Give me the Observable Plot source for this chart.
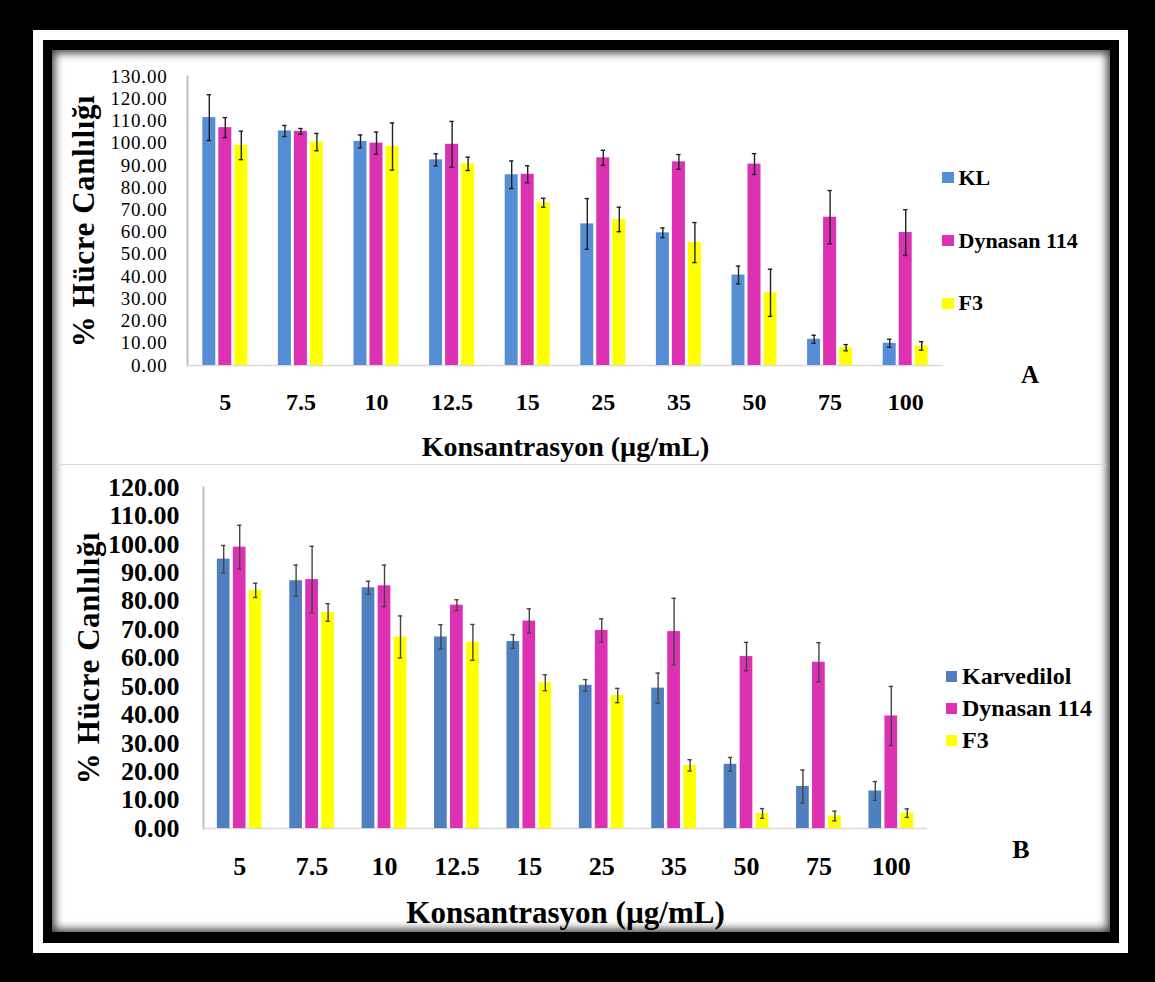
<!DOCTYPE html>
<html>
<head>
<meta charset="utf-8">
<script src="https://cdn.jsdelivr.net/npm/d3@7"></script>
<script src="https://cdn.jsdelivr.net/npm/@observablehq/plot@0.6"></script>
<style>
  html, body { margin: 0; padding: 0; background: #000; }
  #page { position: relative; width: 1155px; height: 982px; overflow: hidden; background: #000; font-family: "Liberation Serif", "Times New Roman", serif; }
  #ring { position: absolute; left: 33px; top: 30px; width: 1095px; height: 923px; background: #fff; }
  #inner { position: absolute; left: 43px; top: 40px; width: 1076px; height: 903px; background: #000; }
  #interior { position: absolute; left: 52px; top: 50px; width: 1058px; height: 882px; background: #fff; box-shadow: inset 0 0 9px 3px rgba(0,0,0,0.75); }
  #sep { position: absolute; left: 56px; top: 464px; width: 1050px; height: 0; border-top: 1.5px solid #d9d9d9; }
  .plot { position: absolute; }
  .plot svg { background: transparent !important; overflow: visible; }
  #pa { left: 54px; top: 56px; }
  #pb { left: 54px; top: 466px; }
  .plot [aria-label="frame"], .plot [aria-label="frame"] * { stroke: #bfbfbf !important; stroke-width: 2px; }
  #pa [aria-label="y-axis tick label"] text { font-size: 19px !important; font-weight: normal; letter-spacing: 0.8px; font-family: "Liberation Serif", serif; }
  #pb [aria-label="y-axis tick label"] text { font-size: 26px !important; font-weight: bold; font-family: "Liberation Serif", serif; }
  #pa [aria-label="fx-axis tick label"] text { font-size: 24px !important; font-weight: bold; font-family: "Liberation Serif", serif; }
  #pb [aria-label="fx-axis tick label"] text { font-size: 26px !important; font-weight: bold; font-family: "Liberation Serif", serif; }
  #pa [aria-label="y-axis label"] text { font-size: 31px !important; font-weight: bold; letter-spacing: 0.6px; font-family: "Liberation Serif", serif; }
  #pb [aria-label="y-axis label"] text { font-size: 31px !important; font-weight: bold; letter-spacing: 0.6px; font-family: "Liberation Serif", serif; }
  #pa [aria-label="fx-axis label"] text { font-size: 28px !important; font-weight: bold; font-family: "Liberation Serif", serif; }
  #pb [aria-label="fx-axis label"] text { font-size: 31px !important; font-weight: bold; font-family: "Liberation Serif", serif; }
  .legend { position: absolute; font-weight: bold; color: #000; }
  .legend .item { position: absolute; left: 0; white-space: nowrap; display: flex; align-items: center; }
  .legend .sw { display: inline-block; margin-right: 5px; }
  .tag { position: absolute; font-weight: bold; color: #000; transform: translate(-50%, -50%); }
</style>
</head>
<body>
<div id="page">
  <div id="ring"></div>
  <div id="inner"></div>
  <div id="interior"></div>
  <div id="sep"></div>
  <div id="pa" class="plot"></div>
  <div id="pb" class="plot"></div>
</div>
<script>
// ---- Data ----
const concentrations = ["5", "7.5", "10", "12.5", "15", "25", "35", "50", "75", "100"];

// Panel A
const seriesA = ["KL", "Dynasan 114", "F3"];
const colorsA = ["#558ED5", "#DD31B4", "#FFFF00"];
const ticksA = [0, 10, 20, 30, 40, 50, 60, 70, 80, 90, 100, 110, 120, 130];
const aKL      = [111.5, 105.5, 100.8, 92.5, 85.8, 63.7, 59.7, 40.7, 11.8, 10.0];
const aKLErr   = [10.3, 2.5, 2.9, 2.7, 6.2, 11.4, 2.2, 4.0, 1.8, 1.8];
const aDyn     = [107.0, 105.3, 100.0, 99.5, 86.0, 93.4, 91.6, 90.6, 66.7, 59.8];
const aDynErr  = [4.5, 1.3, 5.0, 10.3, 3.8, 3.4, 3.3, 4.7, 12.0, 10.3];
const aF3      = [99.0, 100.5, 98.5, 90.7, 73.2, 65.7, 55.3, 32.7, 8.0, 8.8];
const aF3Err   = [6.4, 3.9, 10.6, 3.0, 2.0, 5.5, 9.0, 10.6, 1.4, 1.9];

// Panel B
const seriesB = ["Karvedilol", "Dynasan 114", "F3"];
const colorsB = ["#4F7FBE", "#DD31B4", "#FFFF00"];
const ticksB = [0, 10, 20, 30, 40, 50, 60, 70, 80, 90, 100, 110, 120];
const bKar     = [94.8, 87.2, 84.7, 67.4, 65.8, 50.4, 49.4, 22.6, 14.8, 13.2];
const bKarErr  = [4.8, 5.5, 2.3, 4.3, 2.4, 2.0, 5.3, 2.4, 5.8, 3.3];
const bDyn     = [99.0, 87.6, 85.4, 78.6, 73.0, 69.7, 69.3, 60.5, 58.5, 39.6];
const bDynErr  = [7.7, 11.7, 7.3, 1.9, 4.3, 4.1, 11.7, 5.0, 6.9, 10.4];
const bF3      = [83.8, 76.0, 67.4, 65.5, 51.3, 46.8, 22.2, 5.3, 4.4, 5.4];
const bF3Err   = [2.5, 3.1, 7.4, 6.3, 2.8, 2.5, 2.0, 1.7, 1.7, 1.5];

const yLabel = "% Hücre Canlılığı";
const xLabel = "Konsantrasyon (µg/mL)";

function rows(series, vals, errs) {
  return concentrations.flatMap((c, i) => series.map((s, j) => ({conc: c, series: s, value: vals[j][i], err: errs[j][i]})));
}

function chart(cfg) {
  const data = rows(cfg.series, cfg.vals, cfg.errs);
  return Plot.plot({
    width: cfg.width, height: cfg.height,
    marginLeft: cfg.ml, marginRight: cfg.mr, marginTop: cfg.mt, marginBottom: cfg.mb,
    style: {background: "transparent", color: "black", fontFamily: "'Liberation Serif', serif"},
    fx: {domain: concentrations, paddingInner: 0, paddingOuter: 0, round: false, axis: "bottom",
         tickSize: 0, tickPadding: cfg.fxPad, label: xLabel, labelAnchor: "center", labelOffset: cfg.xLabOff},
    x: {domain: cfg.series, axis: null, paddingInner: cfg.pin, paddingOuter: cfg.pout, round: false},
    y: {domain: cfg.ydom, ticks: cfg.ticks, tickFormat: d3.format(".2f"), tickSize: 0, tickPadding: cfg.yPad,
        label: yLabel, labelAnchor: "center", labelOffset: cfg.yLabOff, labelArrow: "none", line: true},
    color: {domain: cfg.series, range: cfg.colors},
    marks: [
      Plot.ruleY([0], {stroke: "#d9d9d9", strokeWidth: 1.5}),
      Plot.barY(data, {fx: "conc", x: "series", y: "value", fill: "series"}),
      Plot.ruleX(data, {fx: "conc", x: "series", y1: d => d.value - d.err, y2: d => d.value + d.err, stroke: cfg.errColor, strokeWidth: 1.4}),
      Plot.tickY(data, {fx: "conc", x: "series", y: d => d.value - d.err, stroke: cfg.errColor, strokeWidth: 1.4, inset: cfg.capInset}),
      Plot.tickY(data, {fx: "conc", x: "series", y: d => d.value + d.err, stroke: cfg.errColor, strokeWidth: 1.4, inset: cfg.capInset})
    ]
  });
}

const plotA = chart({
  series: seriesA, vals: [aKL, aDyn, aF3], errs: [aKLErr, aDynErr, aF3Err], colors: colorsA,
  width: 1052, height: 409, ml: 133, mr: 163, mt: 20, mb: 100,
  pin: 0.1875, pout: 0.956, ydom: [0, 130], ticks: ticksA,
  yPad: 20, fxPad: 27, xLabOff: 90, yLabOff: 116, errColor: "#222", capInset: 4.3
});
document.getElementById("pa").appendChild(plotA);

const plotB = chart({
  series: seriesB, vals: [bKar, bDyn, bF3], errs: [bKarErr, bDynErr, bF3Err], colors: colorsB,
  width: 1052, height: 466, ml: 149, mr: 179, mt: 21, mb: 104,
  pin: 0.206, pout: 0.866, ydom: [0, 120], ticks: ticksB,
  yPad: 24, fxPad: 28, xLabOff: 94, yLabOff: 127, errColor: "#444", capInset: 4.2
});
document.getElementById("pb").appendChild(plotB);

// Legends and panel tags
function legend(series, colors, left, tops, fontSize, sw) {
  const div = document.createElement("div");
  div.className = "legend";
  div.style.left = left + "px";
  div.style.top = "0px";
  div.style.fontSize = fontSize + "px";
  series.forEach((s, i) => {
    const item = document.createElement("div");
    item.className = "item";
    item.style.top = (tops[i] - fontSize * 0.6) + "px";
    item.style.height = (fontSize * 1.2) + "px";
    const box = document.createElement("span");
    box.className = "sw";
    box.style.width = sw + "px";
    box.style.height = sw + "px";
    box.style.background = colors[i];
    const t = document.createElement("span");
    t.textContent = s;
    item.appendChild(box);
    item.appendChild(t);
    div.appendChild(item);
  });
  document.getElementById("page").appendChild(div);
}
legend(seriesA, colorsA, 942, [177.7, 240.7, 303.3], 22, 11.5);
legend(seriesB, colorsB, 946, [677, 709, 741], 24, 11);

function tag(text, x, y, size) {
  const d = document.createElement("div");
  d.className = "tag";
  d.textContent = text;
  d.style.left = x + "px";
  d.style.top = y + "px";
  d.style.fontSize = size + "px";
  document.getElementById("page").appendChild(d);
}
tag("A", 1030, 375, 25);
tag("B", 1021, 850, 26);
</script>
</body>
</html>
